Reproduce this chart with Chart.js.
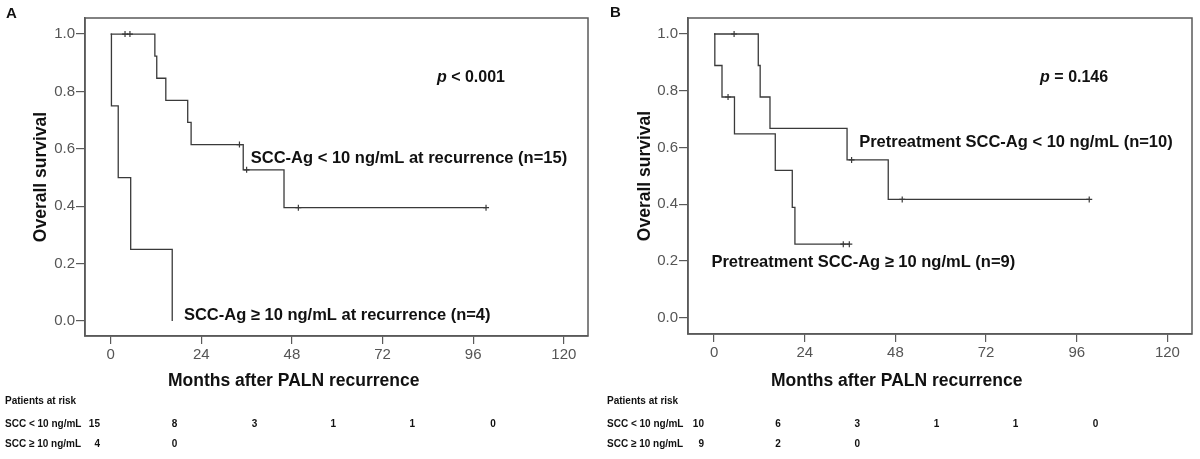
<!DOCTYPE html>
<html><head><meta charset="utf-8">
<script src="https://cdn.jsdelivr.net/npm/chart.js@4.4.1/dist/chart.umd.min.js"></script>
<style>
html,body{margin:0;padding:0;background:#fff;}
#wrap{position:relative;width:1200px;height:459px;overflow:hidden;background:#fff;}
.panel{position:absolute;top:0;width:600px;height:459px;}
</style></head>
<body><div id="wrap">
<div class="panel" style="left:0"><canvas id="cA" width="600" height="459"></canvas></div>
<div class="panel" style="left:600px"><canvas id="cB" width="600" height="459"></canvas></div>
</div>
<script>
// ---- data ----
const xTicks = [0, 24, 48, 72, 96, 120];
const yTicks = [0, 0.2, 0.4, 0.6, 0.8, 1.0];

// Panel A: SCC-Ag at recurrence
const aLowTime = [0, 11.7, 12.2, 14.6, 20.4, 21.3, 35.1, 45.9, 99.4];
const aLowSurv = [1, 0.923, 0.846, 0.769, 0.692, 0.615, 0.527, 0.395, 0.395];
const aLowCensTime = [3.8, 5.1, 34.1, 36.0, 49.7, 99.4];
const aLowCensSurv = [1, 1, 0.615, 0.527, 0.395, 0.395];
const aHighTime = [0, 0.2, 2.0, 5.3, 16.3];
const aHighSurv = [1, 0.75, 0.5, 0.25, 0];
const aRiskLow = [15, 8, 3, 1, 1, 0];
const aRiskHigh = [4, 0];

// Panel B: pretreatment SCC-Ag
const bLowTime = [0, 11.7, 12.2, 14.8, 35.2, 46.1, 99.3];
const bLowSurv = [1, 0.889, 0.778, 0.667, 0.556, 0.417, 0.417];
const bLowCensTime = [5.3, 36.4, 49.8, 99.3];
const bLowCensSurv = [1, 0.556, 0.417, 0.417];
const bHighTime = [0, 0.2, 2.1, 5.4, 16.2, 20.7, 21.4, 35.8];
const bHighSurv = [1, 0.889, 0.778, 0.648, 0.519, 0.389, 0.259, 0.259];
const bHighCensTime = [3.7, 34.2, 35.8];
const bHighCensSurv = [0.778, 0.259, 0.259];
const bRiskLow = [10, 6, 3, 1, 1, 0];
const bRiskHigh = [9, 2, 0];

const riskRowLabels = ['SCC < 10 ng/mL', 'SCC \u2265 10 ng/mL'];
const riskHeader = 'Patients at risk';
const xTitle = 'Months after PALN recurrence';
const yTitle = 'Overall survival';

// ---- helpers ----
const FONT = '"Liberation Sans", Arial, Helvetica, sans-serif';
const LINE = '#3a3a3a';
const AXIS = '#5a5a5a';
const pts = (t, s) => t.map((v, i) => ({x: v, y: s[i]}));

function narrowText(ctx, text, x, y, align) {
  ctx.save();
  ctx.translate(x, y);
  ctx.scale(0.87, 1);
  ctx.textAlign = align;
  ctx.fillText(text, 0, 0);
  ctx.restore();
}

const decor = {
  id: 'decor',
  afterDraw(chart, args, o) {
    const ctx = chart.ctx, ca = chart.chartArea, xs = chart.scales.x, ys = chart.scales.y;
    ctx.save();
    ctx.strokeStyle = AXIS; ctx.lineWidth = 1.5;
    ctx.strokeRect(ca.left, ca.top, ca.right - ca.left, ca.bottom - ca.top);
    ctx.fillStyle = '#111';
    ctx.textBaseline = 'middle';
    ctx.textAlign = 'left';
    ctx.font = 'bold 15px ' + FONT;
    ctx.fillText(o.letter, o.letterX, o.letterY);
    // annotations in data coordinates
    o.notes.forEach(n => {
      let x = xs.getPixelForValue(n.x);
      const y = ys.getPixelForValue(n.y);
      n.parts.forEach(p => {
        ctx.font = (p.italic ? 'italic ' : '') + 'bold ' + n.size + 'px ' + FONT;
        ctx.fillText(p.t, x, y);
        x += ctx.measureText(p.t).width;
      });
    });
    // x-axis title
    ctx.textAlign = 'center';
    ctx.font = 'bold 17.5px ' + FONT;
    ctx.fillText(xTitle, o.xTitleX, o.xTitleY);
    // risk table
    ctx.font = 'bold 11.5px ' + FONT;
    narrowText(ctx, riskHeader, o.riskLabelX, o.riskRowY[0], 'left');
    o.riskRows.forEach((row, r) => {
      const y = o.riskRowY[r + 1];
      narrowText(ctx, riskRowLabels[r], o.riskLabelX, y, 'left');
      row.forEach((v, i) => narrowText(ctx, String(v), o.riskColX[i], y, 'right'));
    });
    ctx.restore();
  }
};

function makeChart(id, cfg) {
  return new Chart(document.getElementById(id), {
    type: 'line',
    data: {
      datasets: [
        {data: pts(cfg.lowT, cfg.lowS), stepped: true, borderColor: LINE, borderWidth: 1.3, pointRadius: 0, fill: false},
        {data: pts(cfg.highT, cfg.highS), stepped: true, borderColor: LINE, borderWidth: 1.3, pointRadius: 0, fill: false},
        {type: 'scatter', data: pts(cfg.censT1, cfg.censS1), pointStyle: 'cross', pointRadius: 3, borderColor: LINE, borderWidth: 1.2, showLine: false},
        {type: 'scatter', data: pts(cfg.censT2, cfg.censS2), pointStyle: 'cross', pointRadius: 3, borderColor: LINE, borderWidth: 1.2, showLine: false}
      ]
    },
    options: {
      responsive: false,
      animation: false,
      events: [],
      layout: {padding: {left: 0, top: 18, right: cfg.padRight, bottom: 0}},
      plugins: {legend: {display: false}, tooltip: {enabled: false}, decor: cfg.decor},
      scales: {
        x: {
          type: 'linear', position: 'bottom', min: cfg.xMin, max: cfg.xMax,
          afterBuildTicks: s => { s.ticks = xTicks.map(v => ({value: v})); },
          afterFit: s => { s.height = cfg.xHeight; },
          ticks: {autoSkip: false, maxRotation: 0, padding: 2, color: '#555', font: {family: FONT, size: 15}, callback: v => String(v)},
          grid: {drawOnChartArea: false, drawTicks: true, tickLength: 8, color: AXIS, lineWidth: 1.2},
          border: {display: true, color: AXIS, width: 1.5}
        },
        y: {
          type: 'linear', position: 'left', min: cfg.yMin, max: cfg.yMax,
          afterBuildTicks: s => { s.ticks = yTicks.map(v => ({value: v})); },
          afterFit: s => { s.width = cfg.yWidth; },
          ticks: {autoSkip: false, padding: 1, color: '#555', font: {family: FONT, size: 15}, callback: v => Number(v).toFixed(1)},
          grid: {drawOnChartArea: false, drawTicks: true, tickLength: 9, color: AXIS, lineWidth: 1.2},
          border: {display: true, color: AXIS, width: 1.5},
          title: {display: true, text: yTitle, color: '#111', font: {family: FONT, size: 17.5, weight: 'bold'}, padding: {top: cfg.yTitlePad, bottom: 0}}
        }
      }
    },
    plugins: [decor]
  });
}

makeChart('cA', {
  lowT: aLowTime, lowS: aLowSurv, highT: aHighTime, highS: aHighSurv,
  censT1: aLowCensTime, censS1: aLowCensSurv, censT2: [], censS2: [],
  xMin: -6.8, xMax: 126.4, yMin: -0.052, yMax: 1.056,
  padRight: 12, xHeight: 123, yWidth: 85, yTitlePad: 30.5,
  decor: {
    letter: 'A', letterX: 6, letterY: 13.5,
    xTitleX: 293.7, xTitleY: 381.5,
    notes: [
      {x: 86.4, y: 0.85, size: 16, parts: [{t: 'p', italic: true}, {t: ' < 0.001'}]},
      {x: 37.1, y: 0.568, size: 16.5, parts: [{t: 'SCC-Ag < 10 ng/mL at recurrence (n=15)'}]},
      {x: 19.4, y: 0.021, size: 16.5, parts: [{t: 'SCC-Ag \u2265 10 ng/mL at recurrence (n=4)'}]}
    ],
    riskLabelX: 5, riskRowY: [401, 424, 444],
    riskColX: [100, 177.3, 257.3, 336, 415, 495.7],
    riskRows: [aRiskLow, aRiskHigh]
  }
});

makeChart('cB', {
  lowT: bLowTime, lowS: bLowSurv, highT: bHighTime, highS: bHighSurv,
  censT1: bLowCensTime, censS1: bLowCensSurv, censT2: bHighCensTime, censS2: bHighCensSurv,
  xMin: -6.9, xMax: 126.5, yMin: -0.0575, yMax: 1.0564,
  padRight: 8, xHeight: 125, yWidth: 88, yTitlePad: 34.3,
  decor: {
    letter: 'B', letterX: 10, letterY: 12.5,
    xTitleX: 296.7, xTitleY: 381.5,
    notes: [
      {x: 86.3, y: 0.848, size: 16, parts: [{t: 'p', italic: true}, {t: ' = 0.146'}]},
      {x: 38.4, y: 0.616, size: 16.5, parts: [{t: 'Pretreatment SCC-Ag < 10 ng/mL (n=10)'}]},
      {x: -0.7, y: 0.194, size: 16.5, parts: [{t: 'Pretreatment SCC-Ag \u2265 10 ng/mL (n=9)'}]}
    ],
    riskLabelX: 7, riskRowY: [401, 424, 444],
    riskColX: [104, 180.8, 260, 339.3, 418.3, 498.3],
    riskRows: [bRiskLow, bRiskHigh]
  }
});
</script>
</body></html>
